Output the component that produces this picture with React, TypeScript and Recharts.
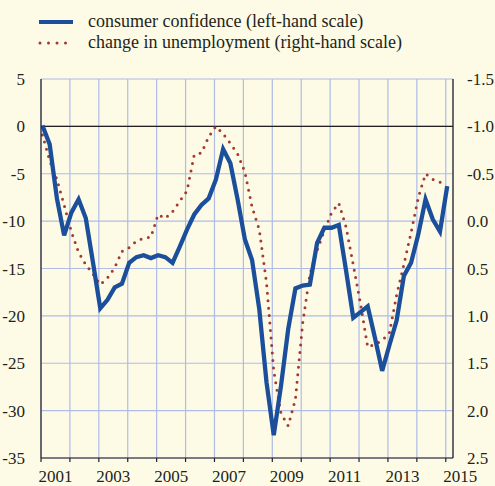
import { LineChart, Line, XAxis, YAxis, CartesianGrid, ReferenceLine } from "recharts";

const years = [2001, 2002, 2003, 2004, 2005, 2006, 2007, 2008, 2009, 2010, 2011, 2012, 2013, 2014, 2015];
const leftTicks = [5, 0, -5, -10, -15, -20, -25, -30, -35];
const rightTicks = [-1.5, -1.0, -0.5, 0, 0.5, 1.0, 1.5, 2.0, 2.5];

// quarterly, 2001Q1 .. 2015Q1
const quarters = years.flatMap((y) => ["Q1", "Q2", "Q3", "Q4"].map((q) => `${y}${q}`)).slice(0, 57);

const confidence = [
  0.1, -1.9, -7.6, -11.5, -9.1, -7.7, -9.7, -14.4, -19.2, -18.3, -17.0, -16.6, -14.4, -13.8, -13.6,
  -13.9, -13.6, -13.8, -14.4, -12.7, -10.9, -9.3, -8.3, -7.6, -5.6, -2.4, -3.9, -7.7, -11.9, -14.1,
  -19.3, -27.0, -32.6, -27.4, -21.4, -17.1, -16.8, -16.7, -12.3, -10.7, -10.7, -10.4, -15.2, -20.2,
  -19.6, -19.0, -22.3, -25.8, -23.1, -20.5, -15.8, -14.4, -11.4, -7.7, -9.8, -11.1, -6.3,
];

const unemploymentChange = [
  -0.91, -0.64, -0.44, -0.17, 0.11, 0.33, 0.46, 0.56, 0.67, 0.6, 0.49, 0.32, 0.28, 0.21, 0.18, 0.17,
  -0.07, -0.03, -0.1, -0.21, -0.32, -0.7, -0.72, -0.89, -1.0, -0.92, -0.82, -0.71, -0.52, -0.15, 0.09,
  0.65, 1.58, 2.03, 2.16, 1.88, 1.08, 0.56, 0.31, 0.1, -0.09, -0.19, 0.06, 0.46, 0.87, 1.33, 1.3, 1.26,
  1.18, 0.78, 0.46, 0.12, -0.25, -0.5, -0.44, -0.41, -0.41,
];

const data = quarters.map((q, i) => ({
  quarter: q,
  t: Number(q.slice(0, 4)) + (Number(q.slice(5)) - 1) / 4 + 0.05,
  confidence: confidence[i],
  unemployment: unemploymentChange[i],
}));

const FONT = "Liberation Serif, Times New Roman, serif";
const TEXT = "#231f20";
const BLUE = "#1b4f9b";
const RED = "#a3392f";
const GRID = "#aebce6";

function YearTick({ x, y, payload }: any) {
  if (payload.value % 2 === 0) return null;
  return (
    <text x={x + 14.5} y={y} dy={19.5} textAnchor="middle" fontSize={17} fontFamily={FONT} fill={TEXT}>
      {payload.value}
    </text>
  );
}

export default function App() {
  return (
    <div style={{ position: "absolute", left: 0, top: 0, width: 495, height: 486, background: "#fdfbe6", fontFamily: FONT }}>
      <svg width={495} height={70} style={{ position: "absolute", left: 0, top: 0 }}>
        <line x1={39} x2={73} y1={22} y2={22} stroke={BLUE} strokeWidth={4} />
        <line x1={40} x2={74} y1={43} y2={43} stroke={RED} strokeWidth={3} strokeDasharray="0 8.5" strokeLinecap="round" />
        <text x={88} y={27} fontSize={18} fontFamily={FONT} fill={TEXT}>
          consumer confidence (left-hand scale)
        </text>
        <text x={88} y={48} fontSize={18} fontFamily={FONT} fill={TEXT}>
          change in unemployment (right-hand scale)
        </text>
      </svg>
      <LineChart width={495} height={486} data={data} margin={{ top: 79, right: 0, bottom: 0, left: 0 }}>
        <CartesianGrid stroke={GRID} strokeWidth={1.2} yAxisId="left" />
        <XAxis
          dataKey="t"
          type="number"
          domain={[2001, 2015.25]}
          ticks={years}
          interval={0}
          height={28}
          tickSize={4}
          tickMargin={0}
          axisLine={{ stroke: TEXT, strokeWidth: 1.2 }}
          tickLine={{ stroke: TEXT, strokeWidth: 1.2 }}
          tick={<YearTick />}
          allowDataOverflow
        />
        <YAxis
          yAxisId="left"
          domain={[-35, 5]}
          ticks={leftTicks}
          interval={0}
          width={41}
          tickLine={false}
          tickMargin={10}
          axisLine={{ stroke: TEXT, strokeWidth: 1.2 }}
          tick={{ fontSize: 17, fontFamily: FONT, fill: TEXT }}
        />
        <YAxis
          yAxisId="right"
          orientation="right"
          reversed
          domain={[-1.5, 2.5]}
          ticks={rightTicks}
          interval={0}
          width={42}
          tickLine={false}
          tickMargin={8}
          axisLine={{ stroke: TEXT, strokeWidth: 1.2 }}
          tickFormatter={(v: number) => v.toFixed(1)}
          tick={{ fontSize: 17, fontFamily: FONT, fill: TEXT }}
        />
        <ReferenceLine yAxisId="left" y={0} stroke={TEXT} strokeWidth={1.3} />
        <Line
          yAxisId="right"
          dataKey="unemployment"
          stroke={RED}
          strokeWidth={3}
          strokeDasharray="0 7.5"
          strokeLinecap="round"
          dot={false}
          activeDot={false}
          isAnimationActive={false}
        />
        <Line
          yAxisId="left"
          dataKey="confidence"
          stroke={BLUE}
          strokeWidth={4.3}
          dot={false}
          activeDot={false}
          isAnimationActive={false}
        />
      </LineChart>
    </div>
  );
}
